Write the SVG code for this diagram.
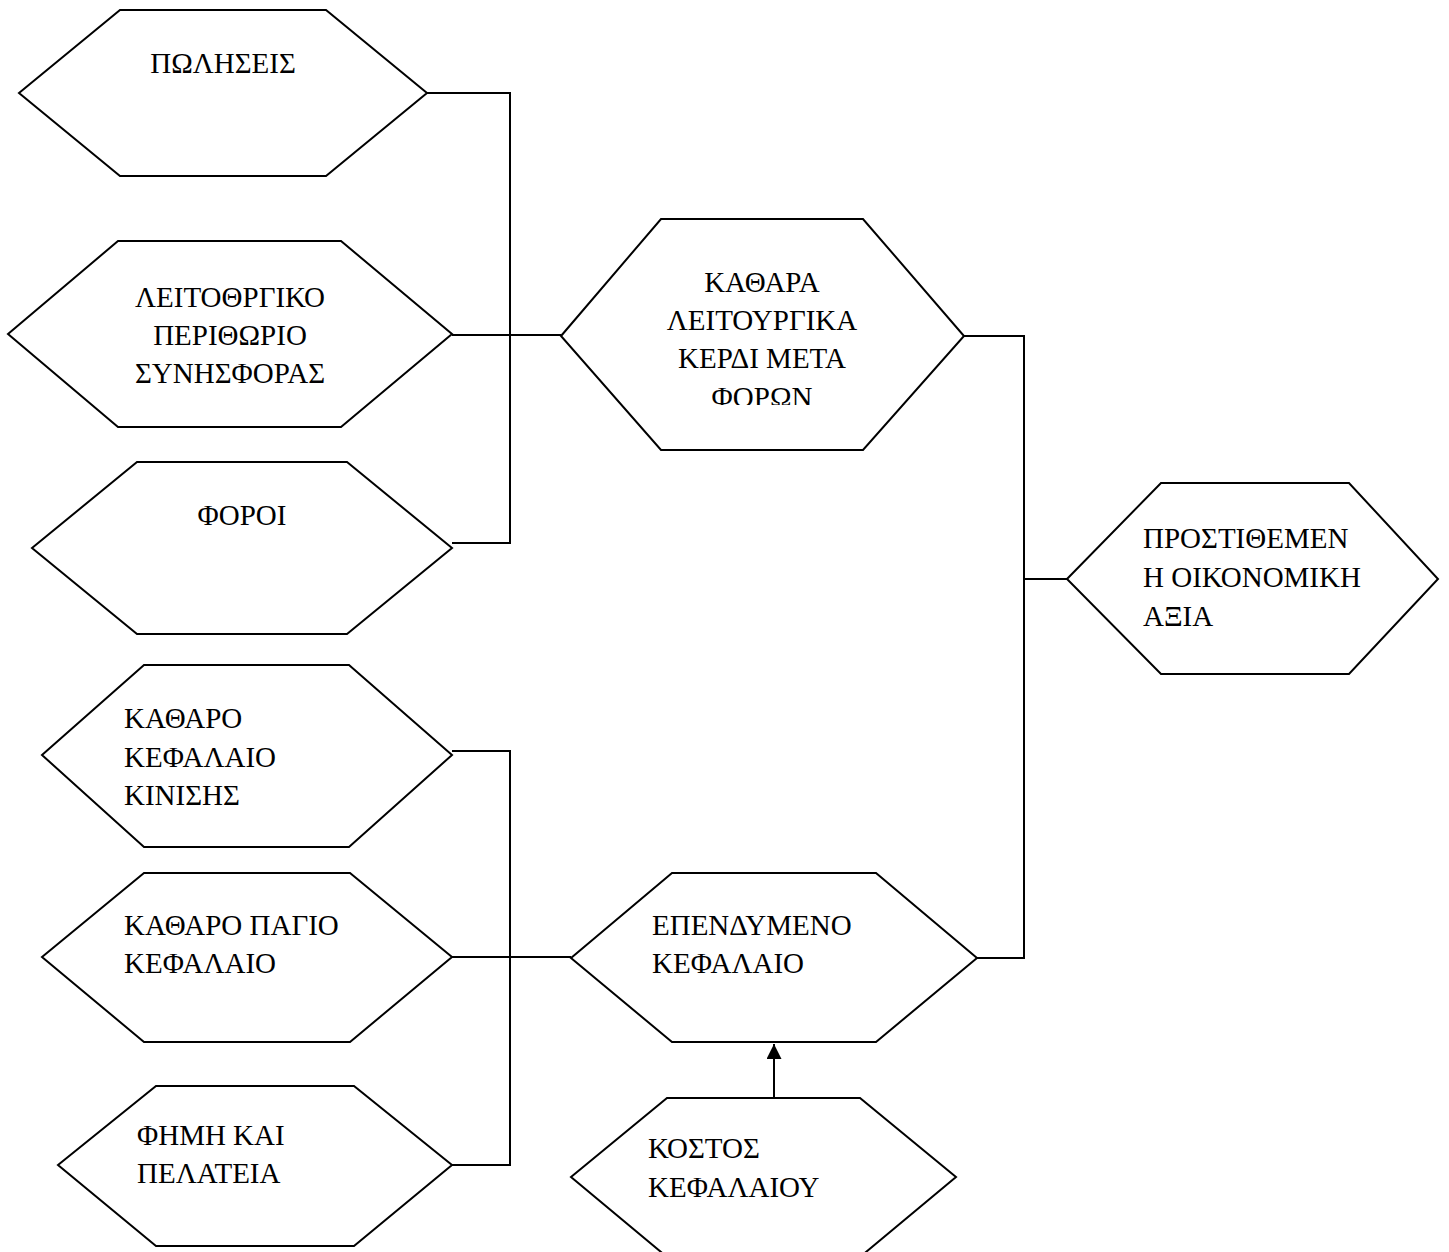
<svg xmlns="http://www.w3.org/2000/svg" width="1449" height="1252" viewBox="0 0 1449 1252">
<style>
.hex{fill:#fff;stroke:#000;stroke-width:2;stroke-linejoin:miter}
.lbl{font-family:"Liberation Serif","Times New Roman",serif;font-size:29px;fill:#000}
.mid{text-anchor:middle}
.conn{fill:none;stroke:#000;stroke-width:2}
</style>
<defs>
<marker id="arrow" markerUnits="userSpaceOnUse" markerWidth="16" markerHeight="16" refX="15" refY="7.5" orient="auto">
<path d="M0,0 L15,7.5 L0,15 Z" fill="#000"/>
</marker>
<clipPath id="clipMid"><rect x="560" y="219" width="405" height="186"/></clipPath>
</defs>
<rect width="1449" height="1252" fill="#fff"/>
<g id="connectors">
<polyline class="conn" points="427,93 510,93 510,543 452,543"/>
<line class="conn" x1="452" y1="335" x2="561" y2="335"/>
<polyline class="conn" points="452,751 510,751 510,1165 452,1165"/>
<line class="conn" x1="452" y1="957" x2="571" y2="957"/>
<polyline class="conn" points="964,336 1024,336 1024,958 977,958"/>
<line class="conn" x1="1024" y1="579" x2="1067" y2="579"/>
<line class="conn" x1="774" y1="1098" x2="774" y2="1044" marker-end="url(#arrow)"/>
</g>
<g id="n-poliseis">
<polygon class="hex" points="19,93 120,10 326,10 427,93 326,176 120,176"/>
<text class="lbl mid" x="223" y="73">ΠΩΛΗΣΕΙΣ</text>
</g>
<g id="n-perithorio">
<polygon class="hex" points="8,334 118,241 341,241 452,334 341,427 118,427"/>
<text class="lbl mid" x="230" y="307">ΛΕΙΤΟΘΡΓΙΚΟ</text>
<text class="lbl mid" x="230" y="345">ΠΕΡΙΘΩΡΙΟ</text>
<text class="lbl mid" x="230" y="383">ΣΥΝΗΣΦΟΡΑΣ</text>
</g>
<g id="n-foroi">
<polygon class="hex" points="32,548 137,462 347,462 452,548 347,634 137,634"/>
<text class="lbl mid" x="242" y="525">ΦΟΡΟΙ</text>
</g>
<g id="n-kathara">
<polygon class="hex" points="561,336 661,219 863,219 964,336 863,450 661,450"/>
<g clip-path="url(#clipMid)">
<text class="lbl mid" x="762" y="292">ΚΑΘΑΡΑ</text>
<text class="lbl mid" x="762" y="330">ΛΕΙΤΟΥΡΓΙΚΑ</text>
<text class="lbl mid" x="762" y="368">ΚΕΡΔΙ ΜΕΤΑ</text>
<text class="lbl mid" x="762" y="407">ΦΟΡΩΝ</text>
</g>
</g>
<g id="n-eva">
<polygon class="hex" points="1067,579 1161,483 1349,483 1438,579 1349,674 1161,674"/>
<text class="lbl" x="1143" y="548">ΠΡΟΣΤΙΘΕΜΕΝ</text>
<text class="lbl" x="1143" y="587">Η ΟΙΚΟΝΟΜΙΚΗ</text>
<text class="lbl" x="1143" y="626">ΑΞΙΑ</text>
</g>
<g id="n-kinisis">
<polygon class="hex" points="42,755 144,665 349,665 452,755 349,847 144,847"/>
<text class="lbl" x="124" y="728">ΚΑΘΑΡΟ</text>
<text class="lbl" x="124" y="767">ΚΕΦΑΛΑΙΟ</text>
<text class="lbl" x="124" y="805">ΚΙΝΙΣΗΣ</text>
</g>
<g id="n-pagio">
<polygon class="hex" points="42,957 144,873 350,873 452,957 350,1042 144,1042"/>
<text class="lbl" x="124" y="935">ΚΑΘΑΡΟ ΠΑΓΙΟ</text>
<text class="lbl" x="124" y="973">ΚΕΦΑΛΑΙΟ</text>
</g>
<g id="n-fimi">
<polygon class="hex" points="58,1165 156,1086 354,1086 452,1165 354,1246 156,1246"/>
<text class="lbl" x="137" y="1145">ΦΗΜΗ ΚΑΙ</text>
<text class="lbl" x="137" y="1183">ΠΕΛΑΤΕΙΑ</text>
</g>
<g id="n-ependymeno">
<polygon class="hex" points="571,958 672,873 876,873 977,958 876,1042 672,1042"/>
<text class="lbl" x="652" y="935">ΕΠΕΝΔΥΜΕΝΟ</text>
<text class="lbl" x="652" y="973">ΚΕΦΑΛΑΙΟ</text>
</g>
<g id="n-kostos">
<polygon class="hex" points="571,1177 667,1098 860,1098 956,1177 860,1257 667,1257"/>
<text class="lbl" x="648" y="1158">ΚΟΣΤΟΣ</text>
<text class="lbl" x="648" y="1197">ΚΕΦΑΛΑΙΟΥ</text>
</g>
</svg>
